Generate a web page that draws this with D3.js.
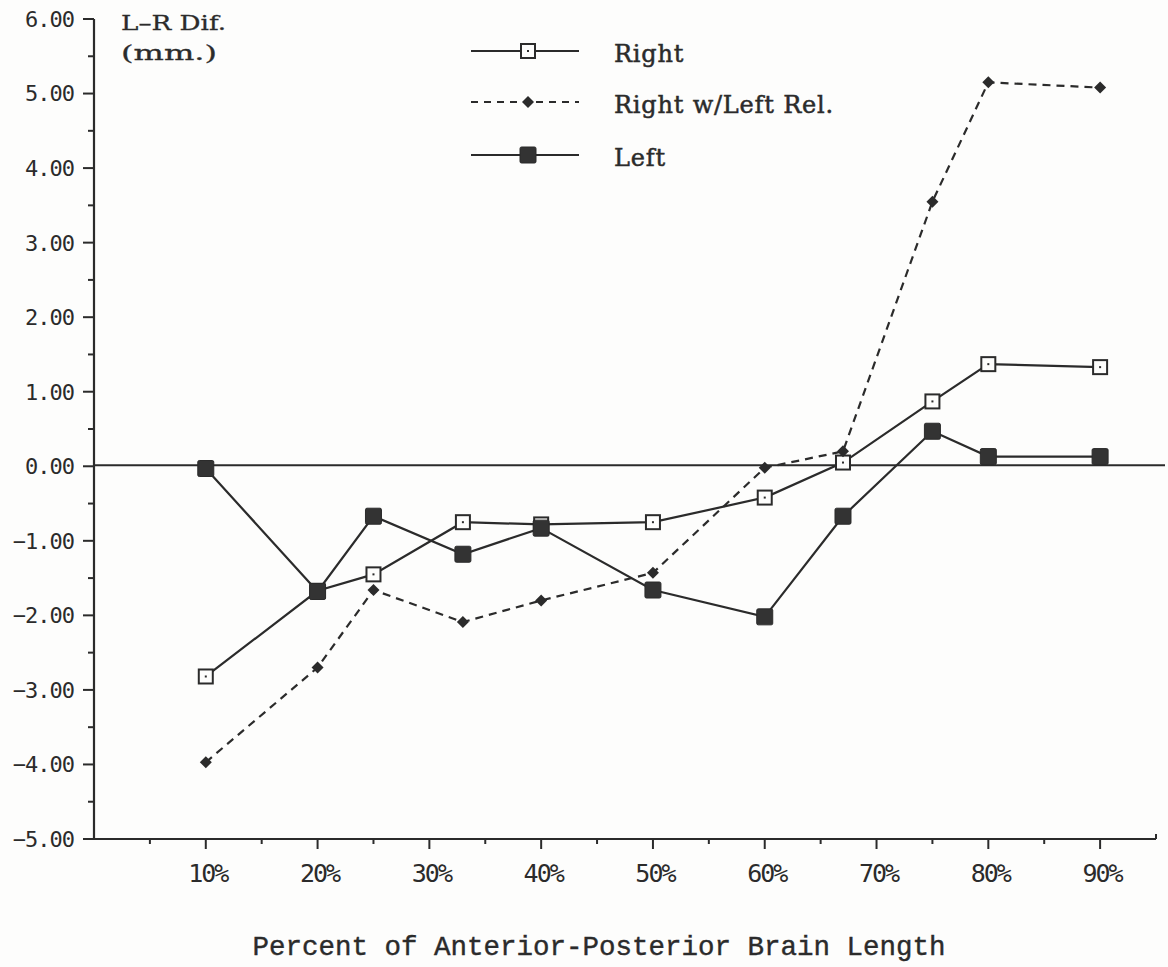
<!DOCTYPE html>
<html>
<head>
<meta charset="utf-8">
<script src="https://cdn.jsdelivr.net/npm/d3@7"></script>
<style>
  html, body { margin: 0; padding: 0; background: #fdfdfc; }
  svg { display: block; }
</style>
</head>
<body>
<svg id="chart" width="1168" height="967"></svg>
<script>
// Positions along the anterior-posterior axis (percent of brain length)
const positions = [10, 20, 25, 33, 40, 50, 60, 67, 75, 80, 90];

// L-R difference (mm) for each series
const rightValues    = [-2.82, -1.67, -1.45, -0.75, -0.78, -0.75, -0.42, 0.05, 0.87, 1.37, 1.33];
const rightRelValues = [-3.97, -2.70, -1.66, -2.09, -1.80, -1.43, -0.02, 0.20, 3.55, 5.15, 5.08];
const leftValues     = [-0.03, -1.68, -0.67, -1.18, -0.83, -1.66, -2.02, -0.67, 0.47, 0.13, 0.13];

const xTickValues = [10, 20, 30, 40, 50, 60, 70, 80, 90];
const yTickValues = [6, 5, 4, 3, 2, 1, 0, -1, -2, -3, -4, -5];

const seriesNames = ["Right", "Right w/Left Rel.", "Left"];

const ink = "#2b2b2b";
const paper = "#fdfdfc";
const svg = d3.select("#chart");

const x = d3.scaleLinear().domain([0, 95]).range([94, 1156]);
const y = d3.scaleLinear().domain([-5, 6]).range([839, 19]);

// Y axis with half-unit minor ticks
const yAxis = svg.append("g").attr("transform", `translate(${x(0)},0)`);
yAxis.append("line")
  .attr("x1", 0).attr("x2", 0).attr("y1", y(6)).attr("y2", y(-5))
  .attr("stroke", ink).attr("stroke-width", 2.2);
yAxis.selectAll("line.major").data(yTickValues).join("line")
  .attr("class", "major")
  .attr("x1", -11).attr("x2", 0)
  .attr("y1", d => y(d)).attr("y2", d => y(d))
  .attr("stroke", ink).attr("stroke-width", 2);
yAxis.selectAll("line.minor").data(d3.range(-4.5, 6, 1)).join("line")
  .attr("class", "minor")
  .attr("x1", -6).attr("x2", 0)
  .attr("y1", d => y(d)).attr("y2", d => y(d))
  .attr("stroke", ink).attr("stroke-width", 2);
yAxis.selectAll("text").data(yTickValues).join("text")
  .attr("x", -20).attr("y", d => y(d))
  .attr("dy", "0.36em")
  .attr("text-anchor", "end")
  .attr("font-family", "DejaVu Sans Mono, monospace")
  .attr("font-size", 22)
  .attr("letter-spacing", -1)
  .attr("fill", ink)
  .text(d => d3.format(".2f")(d).replace("-", "\u2212"));

// X axis with 5% minor ticks
const xAxis = svg.append("g").attr("transform", `translate(0,${y(-5)})`);
xAxis.append("line")
  .attr("x1", x(0)).attr("x2", x(95)).attr("y1", 0).attr("y2", 0)
  .attr("stroke", ink).attr("stroke-width", 2.2);
xAxis.append("line")
  .attr("x1", x(95)).attr("x2", x(95)).attr("y1", 0).attr("y2", -5)
  .attr("stroke", ink).attr("stroke-width", 2);
xAxis.selectAll("line.major").data(xTickValues).join("line")
  .attr("class", "major")
  .attr("x1", d => x(d)).attr("x2", d => x(d))
  .attr("y1", 0).attr("y2", 10)
  .attr("stroke", ink).attr("stroke-width", 2);
xAxis.selectAll("line.minor").data(d3.range(5, 90, 10)).join("line")
  .attr("class", "minor")
  .attr("x1", d => x(d)).attr("x2", d => x(d))
  .attr("y1", 0).attr("y2", 5)
  .attr("stroke", ink).attr("stroke-width", 2);
xAxis.selectAll("text").data(xTickValues).join("text")
  .attr("x", d => x(d) + 2).attr("y", 43)
  .attr("text-anchor", "middle")
  .attr("font-family", "DejaVu Sans Mono, monospace")
  .attr("font-size", 25)
  .attr("letter-spacing", -2)
  .attr("fill", ink)
  .text(d => d + "%");

// Axis titles
svg.append("text")
  .attr("x", 599).attr("y", 955)
  .attr("text-anchor", "middle")
  .attr("font-family", "Liberation Mono, Courier New, monospace")
  .attr("font-size", 27.5)
  .attr("fill", ink)
  .attr("stroke", ink).attr("stroke-width", 0.4)
  .text("Percent of Anterior-Posterior Brain Length");

// Unit label above the y axis, set in a wide slab face
const yTitle = svg.append("text")
  .attr("font-family", "DejaVu Serif, serif")
  .attr("font-size", 21)
  .attr("fill", ink)
  .attr("stroke", ink).attr("stroke-width", 0.3);
yTitle.append("tspan").attr("x", 121).attr("y", 30)
  .attr("textLength", 105).attr("lengthAdjust", "spacingAndGlyphs")
  .text("L\u2013R Dif.");
yTitle.append("tspan").attr("x", 121).attr("y", 60)
  .attr("textLength", 96).attr("lengthAdjust", "spacingAndGlyphs")
  .text("(mm.)");

// Zero reference line
svg.append("line")
  .attr("x1", x(0)).attr("x2", 1165)
  .attr("y1", y(0) - 1).attr("y2", y(0) - 1)
  .attr("stroke", ink).attr("stroke-width", 2.2);

// Marker drawing helpers
function drawMarker(g, kind, cx, cy) {
  if (kind === "open") {
    g.append("rect")
      .attr("x", cx - 7).attr("y", cy - 7).attr("width", 14).attr("height", 14)
      .attr("fill", paper).attr("stroke", ink).attr("stroke-width", 2);
    g.append("rect")
      .attr("x", cx - 1).attr("y", cy - 1).attr("width", 2).attr("height", 2)
      .attr("fill", ink);
  } else if (kind === "filled") {
    g.append("rect")
      .attr("x", cx - 8).attr("y", cy - 8).attr("width", 16).attr("height", 16)
      .attr("rx", 1.5)
      .attr("fill", "#333").attr("stroke", ink).attr("stroke-width", 1);
  } else {
    g.append("path")
      .attr("d", `M${cx},${cy - 6}L${cx + 6},${cy}L${cx},${cy + 6}L${cx - 6},${cy}Z`)
      .attr("fill", ink);
  }
}

const series = [
  { name: seriesNames[0], values: rightValues, marker: "open", dash: null },
  { name: seriesNames[1], values: rightRelValues, marker: "diamond", dash: "8,6" },
  { name: seriesNames[2], values: leftValues, marker: "filled", dash: null }
];

const line = d3.line().x(d => x(d[0])).y(d => y(d[1]));

// Lines first, then markers on top
series.forEach(s => {
  const pts = positions.map((p, i) => [p, s.values[i]]);
  svg.append("path")
    .attr("d", line(pts))
    .attr("fill", "none")
    .attr("stroke", ink)
    .attr("stroke-width", 2.2)
    .attr("stroke-dasharray", s.dash);
});
series.forEach(s => {
  const g = svg.append("g");
  positions.forEach((p, i) => drawMarker(g, s.marker, x(p), y(s.values[i])));
});

// Legend
const legendY = [51, 102, 155];
series.forEach((s, i) => {
  const g = svg.append("g");
  g.append("line")
    .attr("x1", 471).attr("x2", 579)
    .attr("y1", legendY[i]).attr("y2", legendY[i])
    .attr("stroke", ink).attr("stroke-width", 2.2)
    .attr("stroke-dasharray", s.dash ? "7,6" : null);
  drawMarker(g, s.marker, 528, legendY[i]);
  g.append("text")
    .attr("x", 614).attr("y", legendY[i] + 11)
    .attr("font-family", "DejaVu Serif, serif")
    .attr("font-size", 24)
    .attr("letter-spacing", 0.8)
    .attr("fill", ink)
    .attr("stroke", ink).attr("stroke-width", 0.5)
    .text(s.name);
});
</script>
</body>
</html>
